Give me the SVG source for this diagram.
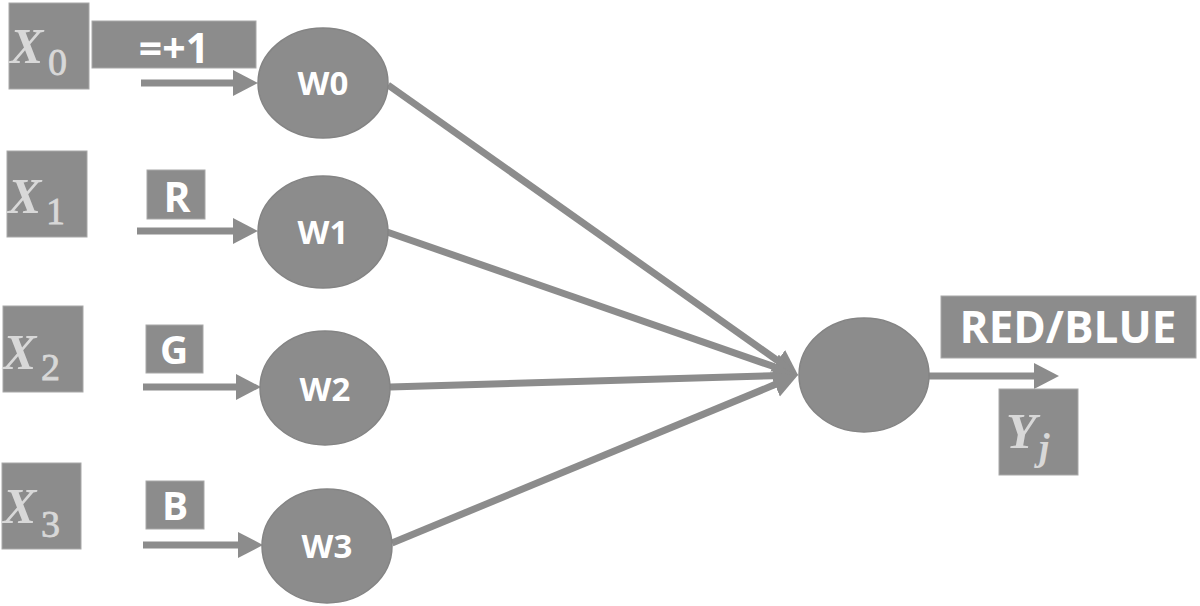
<svg xmlns="http://www.w3.org/2000/svg" width="1200" height="606" viewBox="0 0 1200 606">
<style>
.box{fill:#8c8c8c;stroke:#a8a8a8;stroke-width:1}
.node{fill:#8c8c8c;stroke:#848484;stroke-width:1.5}
.lbl{font-family:"Open Sans","Liberation Sans",sans-serif;font-weight:bold;fill:#ffffff;text-anchor:middle}
.var{font-family:"Liberation Serif","DejaVu Serif",serif;font-weight:bold;font-style:italic;font-size:50px;fill:#d8d8d8}
.sub{font-family:"Liberation Serif","DejaVu Serif",serif;font-size:38px;fill:#d8d8d8;stroke:#d8d8d8;stroke-width:0.8}
.sub-i{font-family:"Liberation Serif","DejaVu Serif",serif;font-style:italic;font-weight:bold;font-size:38px;fill:#d8d8d8}
.edge{stroke:#8c8c8c;stroke-width:7;fill:none;marker-end:url(#ah)}
</style>
<defs>
<marker id="ah" markerUnits="userSpaceOnUse" markerWidth="26" markerHeight="28" refX="0" refY="13" orient="auto" viewBox="0 0 26 26">
<path d="M0,0 L25,13 L0,26 Z" fill="#8c8c8c"/>
</marker>
</defs>
<rect width="1200" height="606" fill="#ffffff"/>

<g id="connectors">
<line class="edge" x1="141" y1="83" x2="233" y2="83"/>
<line class="edge" x1="137" y1="231" x2="233" y2="231"/>
<line class="edge" x1="143" y1="387" x2="236" y2="387"/>
<line class="edge" x1="143" y1="545" x2="238" y2="545"/>
<line class="edge" x1="388" y1="85" x2="777.6" y2="360.6"/>
<line class="edge" x1="387" y1="232" x2="774.4" y2="366.8"/>
<line class="edge" x1="390" y1="387" x2="773" y2="375.7"/>
<line class="edge" x1="392" y1="543" x2="774.9" y2="384.6"/>
<line class="edge" x1="929" y1="376" x2="1034" y2="376"/>
</g>

<g id="x0"><rect class="box" x="9" y="3" width="80" height="86"/><text class="var" x="10" y="63">X</text><text class="sub" x="48" y="75">0</text></g>
<g id="x1"><rect class="box" x="7" y="151" width="80" height="86"/><text class="var" x="8" y="213">X</text><text class="sub" x="46" y="224">1</text></g>
<g id="x2"><rect class="box" x="3" y="306" width="80" height="86"/><text class="var" x="3" y="369">X</text><text class="sub" x="41" y="380">2</text></g>
<g id="x3"><rect class="box" x="2" y="463" width="79" height="86"/><text class="var" x="3" y="523">X</text><text class="sub" x="41" y="537">3</text></g>

<g id="in0"><rect class="box" x="92" y="21" width="164" height="47"/><text class="lbl" x="174" y="63" font-size="41">=+1</text></g>
<g id="inR"><rect class="box" x="147" y="170" width="58" height="49"/><text class="lbl" x="177" y="212" font-size="41">R</text></g>
<g id="inG"><rect class="box" x="146" y="325" width="57" height="48"/><text class="lbl" x="174" y="364" font-size="39">G</text></g>
<g id="inB"><rect class="box" x="146" y="481" width="58" height="48"/><text class="lbl" x="175" y="520" font-size="39">B</text></g>

<g id="w0"><ellipse class="node" cx="323" cy="83" rx="65" ry="55"/><text class="lbl" x="323" y="95" font-size="33">W0</text></g>
<g id="w1"><ellipse class="node" cx="323" cy="232" rx="65" ry="56"/><text class="lbl" x="323" y="244" font-size="33">W1</text></g>
<g id="w2"><ellipse class="node" cx="325" cy="388" rx="65" ry="57"/><text class="lbl" x="325" y="401" font-size="33">W2</text></g>
<g id="w3"><ellipse class="node" cx="327" cy="546" rx="65" ry="57"/><text class="lbl" x="327" y="558" font-size="33">W3</text></g>

<g id="out"><ellipse class="node" cx="864" cy="375" rx="65" ry="57"/></g>
<g id="result"><rect class="box" x="941" y="296" width="255" height="62"/><text class="lbl" x="1068" y="343" font-size="44">RED/BLUE</text></g>
<g id="yj"><rect class="box" x="999" y="389" width="79" height="86"/><text class="var" x="1006" y="448">Y</text><text class="sub-i" x="1039" y="460">j</text></g>
</svg>
